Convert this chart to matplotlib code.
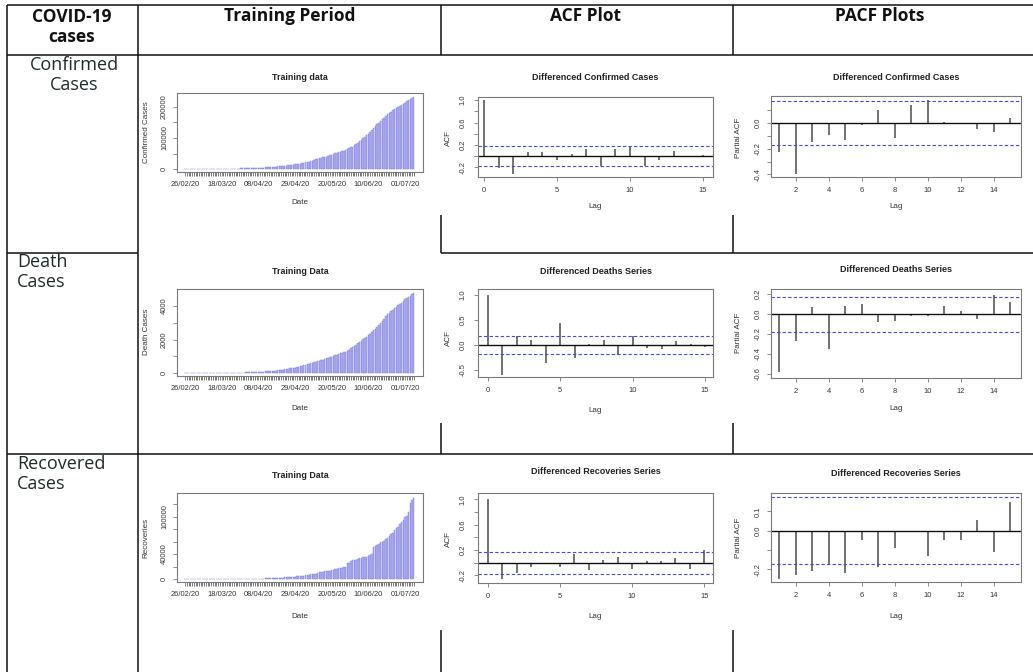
import numpy as np
import pandas as pd
import matplotlib
matplotlib.use("Agg")
import matplotlib.pyplot as plt
from matplotlib.lines import Line2D

# ---------------- data ----------------
dates = pd.date_range("2020-02-26", "2020-07-06", freq="D")
date_tick_labels = ["26/02/20", "18/03/20", "08/04/20", "29/04/20", "20/05/20", "10/06/20", "01/07/20"]

confirmed = [2, 2, 2, 4,
             4, 5, 5, 5, 5, 6, 6, 6, 16, 19, 20, 21, 28, 31, 53, 136, 187, 245, 302, 495, 645, 784, 887, 991,
             1057, 1197, 1408, 1526, 1625, 1865, 2039,
             2291, 2450, 2708, 2818, 3157, 3766, 4035, 4263, 4489, 4695, 4788, 5230, 5496, 5837, 6383, 6919,
             7025, 7638, 8348, 8418, 9216, 9749, 10513, 11155, 11940, 12723, 13328, 14079, 14885, 15759,
             16817, 17699, 18114, 20084, 21501, 22550, 24073, 25837, 26435, 30334, 30941, 32081, 34336, 35788,
             37218, 38799, 40151, 42125, 43966, 45898, 48091, 50694, 52437, 54601, 56349, 57705, 59151, 61227,
             64028, 66457, 69496,
             72460, 76398, 80463, 85264, 89249, 93983, 98943, 103671, 108317, 113702, 119536, 125933, 132405,
             139230, 144478, 148921, 154760, 160118, 165062, 171666, 176617, 181088, 185034, 188926, 192970,
             195745, 198883, 202955, 206512, 209337,
             213470, 217809, 221896, 225283, 228474, 231818]

deaths = [0] * 21 + [2, 2, 3, 3, 5, 6, 7, 8, 9, 11, 12, 21, 25, 26,
          31, 35, 40, 41, 50, 54, 57, 61, 65, 66, 73, 91, 93, 96, 111, 128, 135, 143, 168, 176, 192, 208,
          224, 237, 253, 269, 281, 301, 327, 343,
          385, 417, 440, 462, 486, 526, 564, 599, 618, 667, 685, 706, 737, 770, 803, 834, 873, 903, 939, 985,
          1017, 1067, 1101, 1133, 1167, 1197, 1225, 1260, 1317, 1395, 1483,
          1543, 1621, 1688, 1770, 1838, 1935, 2002, 2067, 2172, 2255, 2356, 2463, 2551, 2632, 2729, 2839,
          2975, 3093, 3229, 3382, 3499, 3590, 3695, 3755, 3903, 3962, 4035, 4118, 4167, 4304,
          4395, 4473, 4551, 4619, 4712, 4762]

recovered = [0] * 19 + [2, 2, 2, 2, 5, 13, 13, 18, 18, 23, 23, 27, 29, 29, 58, 82,
             107, 126, 130, 131, 170, 257, 429, 467, 572, 727, 762, 1095, 1095, 1278, 1446, 1645, 1732, 1868,
             1970, 2026, 2156, 2337, 2527, 2755, 2936, 3025, 3233, 3425, 3763, 4104,
             4315, 4715, 5114, 5590, 6214, 6464, 6937, 7530, 7756, 8212, 8555, 9695, 10426, 10880, 11922,
             12489, 12489, 13101, 13525, 14101, 14155, 15755, 16653, 17198, 17482, 18314, 19142, 19900,
             25271, 26083, 28923,
             29688, 30128, 31198, 32581, 33465, 34355, 35018, 35200, 35500, 36308, 38391, 40247, 51735,
             53101, 54040, 56390, 58437, 59215, 61383, 63504, 65765, 68366, 71236, 74016, 77640, 80850,
             84000, 87700, 91300, 95000,
             98500, 101500, 107000, 122000, 126500, 129500]

acf_lags = list(range(0, 16))
pacf_lags = list(range(1, 16))

acf_confirmed = [1.0, -0.21, -0.32, 0.07, 0.07, -0.08, 0.03, 0.13, -0.185, 0.12, 0.16, -0.18, -0.07, 0.09, 0.0, 0.01]
pacf_confirmed = [-0.226, -0.395, -0.148, -0.096, -0.135, -0.018, 0.099, -0.114, 0.143, 0.177, 0.005, 0.003, -0.05, -0.07, 0.04]

acf_deaths = [1.0, -0.59, 0.18, 0.10, -0.35, 0.45, -0.25, 0.03, 0.10, -0.19, 0.18, -0.05, -0.07, 0.08, 0.03, -0.04]
pacf_deaths = [-0.58, -0.27, 0.07, -0.35, 0.08, 0.10, -0.08, -0.07, -0.015, -0.015, 0.08, 0.03, -0.05, 0.195, 0.12]

acf_recovered = [1.0, -0.26, -0.17, -0.07, -0.01, -0.06, 0.13, -0.12, 0.04, 0.09, -0.10, 0.02, 0.03, 0.07, -0.10, 0.20]
pacf_recovered = [-0.25, -0.23, -0.21, -0.17, -0.22, -0.05, -0.19, -0.09, 0.0, -0.13, -0.05, -0.05, 0.055, -0.11, 0.15]

ci_confirmed = 0.171
ci_deaths = 0.175
ci_recovered = 0.172

header_labels = ["COVID-19\ncases", "Training Period", "ACF Plot", "PACF Plots"]
row_labels = ["Confirmed\nCases", "Death\nCases", "Recovered\nCases"]

# ---------------- figure ----------------
W, H = 1033, 672
fig = plt.figure(figsize=(W / 100, H / 100), dpi=100)
fig.patch.set_facecolor("white")

RF = ["Liberation Sans", "DejaVu Sans"]
HF = ["Open Sans", "DejaVu Sans"]
TXT = "#333333"
SPINE = "#7a7a7a"
BAR_FILL = "#b3b3f5"
BAR_EDGE = "#7c7cda"
STEM = "#666666"
CI_COL = "#4646e0"


def ax_px(l, t, r, b):
    return fig.add_axes([l / W, 1 - b / H, (r - l) / W, (b - t) / H])


def fline(x0, y0, x1, y1, lw=1.1, color="#111111"):
    fig.add_artist(Line2D([x0 / W, x1 / W], [1 - y0 / H, 1 - y1 / H],
                          transform=fig.transFigure, lw=lw, color=color, solid_capstyle="butt"))


def ftext(x, y, s, **kw):
    fig.text(x / W, 1 - y / H, s, **kw)


def style_axes(ax, ypad, xpad):
    for sp in ax.spines.values():
        sp.set_color(SPINE)
        sp.set_linewidth(0.8)
    ax.tick_params(axis="both", colors=SPINE, labelcolor=TXT, length=3, width=0.6, labelsize=5.4)
    ax.tick_params(axis="y", pad=ypad)
    ax.tick_params(axis="x", pad=xpad)
    for lab in ax.get_yticklabels():
        lab.set_rotation(90)
        lab.set_va("center")
        lab.set_family(RF)
    for lab in ax.get_xticklabels():
        lab.set_family(RF)


def training(rect, values, ylim, yticks, ylabs, title, ylabel, title_y, date_y, ylab_y):
    l, t, r, b = rect
    ax = ax_px(l, t, r, b)
    x = np.arange(len(values))
    ax.bar(x, values, width=0.85, color=BAR_FILL, edgecolor=BAR_EDGE, linewidth=0.3)
    ax.set_xlim(-4.6, 136.3)
    ax.set_ylim(*ylim)
    ax.set_yticks(yticks)
    ax.set_yticklabels(ylabs)
    ax.set_xticks(x[::21][:len(date_tick_labels)])
    ax.set_xticklabels(date_tick_labels)
    ax.set_xticks(x, minor=True)
    ax.tick_params(axis="x", which="minor", length=3, width=0.5, colors="#444444")
    ax.tick_params(axis="x", which="major", length=3, width=0.5, colors="#444444")
    style_axes(ax, ypad=3.5, xpad=3.5)
    cx = (l + r) / 2
    ftext(cx, title_y, title, ha="center", va="center", fontsize=6.4, fontweight="bold", family=RF, color="#222222")
    ftext(cx, date_y, "Date", ha="center", va="center", fontsize=5.8, family=RF, color=TXT)
    ftext(146, ylab_y, ylabel, ha="center", va="center", rotation=90, fontsize=5.8, family=RF, color=TXT)
    return ax


def corr_plot(rect, lags, vals, ci, xlim, ylim, xticks, yticks, ylabs, title, ylabel, title_y, lag_y,
              ylab_x, ylab_y, ypad):
    l, t, r, b = rect
    ax = ax_px(l, t, r, b)
    ax.vlines(lags, 0, vals, colors=STEM, lw=1.3)
    ax.axhline(0, color="#111111", lw=1.0)
    ax.axhline(ci, color=CI_COL, lw=0.8, ls=(0, (3, 2)))
    ax.axhline(-ci, color=CI_COL, lw=0.8, ls=(0, (3, 2)))
    ax.set_xlim(*xlim)
    ax.set_ylim(*ylim)
    ax.set_xticks(xticks)
    ax.set_xticklabels([str(v) for v in xticks])
    ax.set_yticks(yticks)
    ax.set_yticklabels(ylabs)
    style_axes(ax, ypad=ypad, xpad=4)
    cx = (l + r) / 2
    ftext(cx, title_y, title, ha="center", va="center", fontsize=6.5, fontweight="bold", family=RF, color="#222222")
    ftext(cx, lag_y, "Lag", ha="center", va="center", fontsize=5.8, family=RF, color=TXT)
    ftext(ylab_x, ylab_y, ylabel, ha="center", va="center", rotation=90, fontsize=5.8, family=RF, color=TXT)
    return ax


# ---------------- table lines ----------------
fline(7, 5, W, 5)
fline(7, 55, W, 55)
fline(7, 5, 7, H)
fline(138, 5, 138, H)
for xv in (440.5, 733):
    fline(xv, 5, xv, 55)
    fline(xv, 215, xv, 252.5)
    fline(xv, 423, xv, 453.5)
    fline(xv, 630, xv, H)
fline(7, 252.5, 138, 252.5)
fline(440.5, 252.5, W, 252.5)
fline(7, 453.5, W, 453.5)

# header
hkw = dict(ha="center", va="center", fontsize=12.5, fontweight="bold", family=HF, color="#111111")
ftext(72, 27, header_labels[0], linespacing=1.15, **hkw)
ftext(290, 16, header_labels[1], **hkw)
ftext(585, 16, header_labels[2], **hkw)
ftext(880, 16, header_labels[3], **hkw)

rkw = dict(va="center", fontsize=13, family=HF, color="#1f2a2a", linespacing=1.15)
ftext(74, 75, row_labels[0], ha="center", multialignment="center", **rkw)
ftext(17, 272, row_labels[1], ha="left", **rkw)
ftext(17, 474, row_labels[2], ha="left", **rkw)

# ---------------- row 1: confirmed ----------------
training((177, 93, 423, 172), confirmed, (-9677, 245161),
         [0, 50000, 100000, 150000, 200000], ["0", "", "100000", "", "200000"],
         "Training data", "Confirmed Cases", 77, 203, 132)
corr_plot((478, 97, 713, 177), acf_lags, acf_confirmed, ci_confirmed, (-0.41, 15.68), (-0.376, 1.057),
          [0, 5, 10, 15], [-0.2, 0.0, 0.2, 0.4, 0.6, 0.8, 1.0], ["-0.2", "", "0.2", "", "0.6", "", "1.0"],
          "Differenced Confirmed Cases", "ACF", 77, 207, 448, 138, 5)
corr_plot((771, 96, 1021, 177), pacf_lags, pacf_confirmed, ci_confirmed, (0.485, 15.64), (-0.42, 0.21),
          [2, 4, 6, 8, 10, 12, 14], [-0.4, -0.3, -0.2, -0.1, 0.0, 0.1], ["-0.4", "", "-0.2", "", "0.0", ""],
          "Differenced Confirmed Cases", "Partial ACF", 77, 207, 739, 138, 3.5)

# ---------------- row 2: deaths ----------------
training((177, 289, 423, 376), deaths, (-179, 5015),
         [0, 1000, 2000, 3000, 4000], ["0", "", "2000", "", "4000"],
         "Training Data", "Death Cases", 272, 409, 332)
corr_plot((478, 289, 713, 377), acf_lags, acf_deaths, ci_deaths, (-0.67, 15.55), (-0.64, 1.12),
          [0, 5, 10, 15], [-0.5, 0.0, 0.5, 1.0], ["-0.5", "0.0", "0.5", "1.0"],
          "Differenced Deaths Series", "ACF", 271, 410, 448, 338, 5)
corr_plot((771, 289, 1021, 378), pacf_lags, pacf_deaths, ci_deaths, (0.485, 15.64), (-0.64, 0.25),
          [2, 4, 6, 8, 10, 12, 14], [-0.6, -0.4, -0.2, 0.0, 0.2], ["-0.6", "-0.4", "-0.2", "0.0", "0.2"],
          "Differenced Deaths Series", "Partial ACF", 270, 409, 739, 333, 3.5)

# ---------------- row 3: recovered ----------------
training((177, 493, 423, 582), recovered, (-4800, 137600),
         [0, 20000, 40000, 60000, 80000, 100000, 120000], ["0", "", "40000", "", "", "100000", ""],
         "Training Data", "Recoveries", 476, 616, 538)
corr_plot((478, 493, 713, 583), acf_lags, acf_recovered, ci_recovered, (-0.67, 15.6), (-0.32, 1.10),
          [0, 5, 10, 15], [-0.2, 0.0, 0.2, 0.4, 0.6, 0.8, 1.0], ["-0.2", "", "0.2", "", "0.6", "", "1.0"],
          "Differenced Recoveries Series", "ACF", 472, 616, 448, 539, 5)
corr_plot((771, 493, 1021, 582), pacf_lags, pacf_recovered, ci_recovered, (0.485, 15.64), (-0.265, 0.195),
          [2, 4, 6, 8, 10, 12, 14], [-0.2, -0.1, 0.0, 0.1], ["-0.2", "", "0.0", "0.1"],
          "Differenced Recoveries Series", "Partial ACF", 473, 616, 739, 538, 3.5)

fig.savefig("out.png", dpi=100, facecolor="white")
